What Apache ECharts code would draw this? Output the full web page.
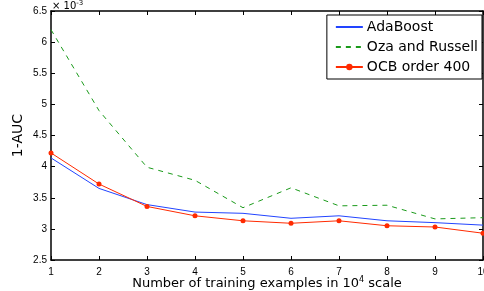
<!DOCTYPE html>
<html>
<head>
<meta charset="utf-8">
<title>1-AUC</title>
<script src="https://cdn.jsdelivr.net/npm/echarts@6/dist/echarts.min.js"></script>
<style>
  html, body { margin: 0; padding: 0; background: #fff; }
  #main { width: 484px; height: 291px; }
</style>
</head>
<body>
<div id="main"></div>
<script>
// x axis: number of training examples (x 10^4)
var sizes = [1, 2, 3, 4, 5, 6, 7, 8, 9, 10];
// 1-AUC, in units of 10^-3
var adaBoost = [4.14, 3.65, 3.39, 3.27, 3.25, 3.17, 3.21, 3.13, 3.10, 3.06];
var ozaRussell = [6.20, 4.90, 3.99, 3.78, 3.34, 3.66, 3.37, 3.38, 3.16, 3.18];
var ocb400 = [4.22, 3.72, 3.36, 3.21, 3.13, 3.09, 3.13, 3.05, 3.03, 2.93];
var seriesNames = ['AdaBoost', 'Oza and Russell', 'OCB order 400'];

function pairs(vals) {
  return vals.map(function (v, i) { return [sizes[i], v]; });
}

var font = 'Liberation Sans, Arial, sans-serif';
var wide = 'DejaVu Sans, sans-serif';
var chart = echarts.init(document.getElementById('main'));

var axisLine = { show: true, lineStyle: { color: '#000', width: 1.5 } };
var tick = { show: true, inside: true, length: 4, lineStyle: { color: '#000' } };
var noMarker = { color: 'rgba(0,0,0,0)', borderWidth: 0 };

var option = {
  animation: false,
  grid: { left: 51, right: 1, top: 11, bottom: 31, outerBoundsMode: 'none', containLabel: false },
  legend: {
    orient: 'vertical',
    right: 2,
    top: 15,
    itemWidth: 27,
    itemHeight: 8,
    itemGap: 6,
    padding: [5, 4, 5, 8],
    borderColor: '#000',
    borderWidth: 1,
    backgroundColor: '#fff',
    textStyle: { fontFamily: wide, fontSize: 14, color: '#000', padding: [0, 0, 0, -1] },
    data: [
      { name: seriesNames[0], itemStyle: noMarker },
      { name: seriesNames[1], itemStyle: noMarker },
      { name: seriesNames[2] }
    ]
  },
  graphic: [{
    type: 'text',
    left: 52,
    top: 0,
    style: {
      text: '× 10{s|-3}',
      fontFamily: wide,
      fontSize: 10,
      fill: '#000',
      rich: { s: { fontFamily: wide, fontSize: 7, verticalAlign: 'top', padding: [0, 0, 6, 0] } }
    }
  }],
  xAxis: [{
    type: 'value',
    min: 1,
    max: 10,
    interval: 1,
    name: 'Number of training examples in 10{s|4} scale',
    nameLocation: 'middle',
    nameGap: 16,
    nameMoveOverlap: false,
    nameTextStyle: {
      fontFamily: wide, fontSize: 13, color: '#000',
      rich: { s: { fontFamily: wide, fontSize: 8, verticalAlign: 'top', padding: [0, 0, 8, 0] } }
    },
    axisLine: axisLine,
    axisTick: tick,
    splitLine: { show: false },
    axisLabel: { fontFamily: font, fontSize: 10, color: '#000', margin: 7 }
  }, {
    type: 'value',
    position: 'top',
    min: 1,
    max: 10,
    interval: 1,
    axisLine: axisLine,
    axisTick: tick,
    splitLine: { show: false },
    axisLabel: { show: false }
  }],
  yAxis: [{
    type: 'value',
    min: 2.5,
    max: 6.5,
    interval: 0.5,
    name: '1-AUC',
    nameLocation: 'middle',
    nameGap: 26,
    nameMoveOverlap: false,
    nameTextStyle: { fontFamily: wide, fontSize: 14, color: '#000' },
    axisLine: axisLine,
    axisTick: tick,
    splitLine: { show: false },
    axisLabel: { fontFamily: font, fontSize: 10, color: '#000', margin: 4 }
  }, {
    type: 'value',
    position: 'right',
    min: 2.5,
    max: 6.5,
    interval: 0.5,
    axisLine: axisLine,
    axisTick: tick,
    splitLine: { show: false },
    axisLabel: { show: false }
  }],
  series: [{
    name: seriesNames[0],
    type: 'line',
    data: pairs(adaBoost),
    symbol: 'none',
    lineStyle: { color: '#2244ff', width: 1 },
    itemStyle: { color: '#2244ff' }
  }, {
    name: seriesNames[1],
    type: 'line',
    data: pairs(ozaRussell),
    symbol: 'none',
    lineStyle: { color: '#1a9a1a', width: 1, type: [5, 5] },
    itemStyle: { color: '#1a9a1a' }
  }, {
    name: seriesNames[2],
    type: 'line',
    data: pairs(ocb400),
    symbol: 'circle',
    symbolSize: 5,
    lineStyle: { color: '#ff2a00', width: 1 },
    itemStyle: { color: '#ff2a00' }
  }]
};

chart.setOption(option);
</script>
</body>
</html>
